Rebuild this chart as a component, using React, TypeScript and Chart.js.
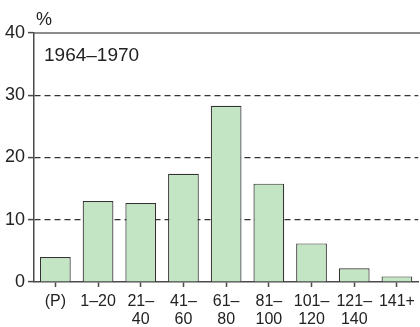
import React, { useEffect, useRef } from "react";
import { Chart, registerables } from "chart.js";

Chart.register(...registerables);

const categories: (string | string[])[] = [
  "(P)",
  "1–20",
  ["21–", "40"],
  ["41–", "60"],
  ["61–", "80"],
  ["81–", "100"],
  ["101–", "120"],
  ["121–", "140"],
  "141+",
];
const values = [4.0, 13.0, 12.7, 17.4, 28.3, 15.8, 6.2, 2.2, 0.9];
const yTicks = [0, 10, 20, 30, 40];
const periodLabel = "1964–1970";
const unitLabel = "%";

const FONT = "'Liberation Sans', Arial, sans-serif";
const TEXT = "#222222";
const AXIS = "#4a4a4a";

export default function App() {
  const ref = useRef<HTMLCanvasElement | null>(null);

  useEffect(() => {
    if (!ref.current) return;
    const overlay = {
      id: "overlay",
      afterDraw(chart: any) {
        const { ctx, chartArea, scales } = chart;
        const y = scales.y;
        ctx.save();
        const yTop = y.getPixelForValue(yTicks[yTicks.length - 1]);
        ctx.strokeStyle = "#666666";
        ctx.lineWidth = 1.5;
        ctx.beginPath();
        ctx.moveTo(chartArea.left, yTop);
        ctx.lineTo(chart.width, yTop);
        ctx.stroke();
        ctx.fillStyle = TEXT;
        ctx.textBaseline = "alphabetic";
        ctx.textAlign = "left";
        ctx.font = `18px ${FONT}`;
        ctx.fillText(unitLabel, chartArea.left + 2, yTop - 8);
        ctx.font = `19px ${FONT}`;
        ctx.fillText(periodLabel, chartArea.left + 10, yTop + 28);
        ctx.restore();
      },
    };

    const chart = new Chart(ref.current, {
      type: "bar",
      data: {
        labels: categories as any,
        datasets: [
          {
            data: values,
            backgroundColor: "#c3e5c3",
            borderColor: "#333333",
            borderWidth: 1.2,
            barPercentage: 0.72,
            categoryPercentage: 1,
          },
        ],
      },
      options: {
        animation: false,
        responsive: false,
        maintainAspectRatio: false,
        layout: { padding: { top: 33, right: 1, left: 0, bottom: 0 } },
        plugins: { legend: { display: false }, tooltip: { enabled: false } },
        scales: {
          x: {
            grid: {
              offset: false,
              drawOnChartArea: false,
              drawTicks: true,
              tickLength: 5,
              tickColor: AXIS,
              tickWidth: 1.5,
            },
            border: { display: true, color: AXIS, width: 1.5 },
            ticks: {
              color: TEXT,
              font: { family: FONT, size: 16, lineHeight: 1.15 },
              padding: 5,
              maxRotation: 0,
              autoSkip: false,
            },
            afterFit(scale: any) {
              scale.height = 45;
            },
          },
          y: {
            min: 0,
            max: 40,
            afterBuildTicks(scale: any) {
              scale.ticks = yTicks.map((v) => ({ value: v }));
            },
            grid: {
              color: (ctx: any) =>
                ctx.tick && (ctx.tick.value === 0 || ctx.tick.value === 40) ? "rgba(0,0,0,0)" : "#333333",
              lineWidth: 1.2,
              tickLength: 6,
              tickColor: AXIS,
              tickWidth: 1.5,
            },
            border: { display: true, color: AXIS, width: 1.5, dash: [6, 4] },
            ticks: {
              color: TEXT,
              font: { family: FONT, size: 18 },
              padding: 3,
            },
            afterFit(scale: any) {
              scale.width = 34;
            },
          },
        },
      },
      plugins: [overlay],
    });
    return () => chart.destroy();
  }, []);

  return (
    <div style={{ position: "absolute", left: 0, top: 0, width: 420, height: 327, background: "#fff" }}>
      <canvas ref={ref} width={420} height={327} style={{ display: "block", width: 420, height: 327 }} />
    </div>
  );
}
